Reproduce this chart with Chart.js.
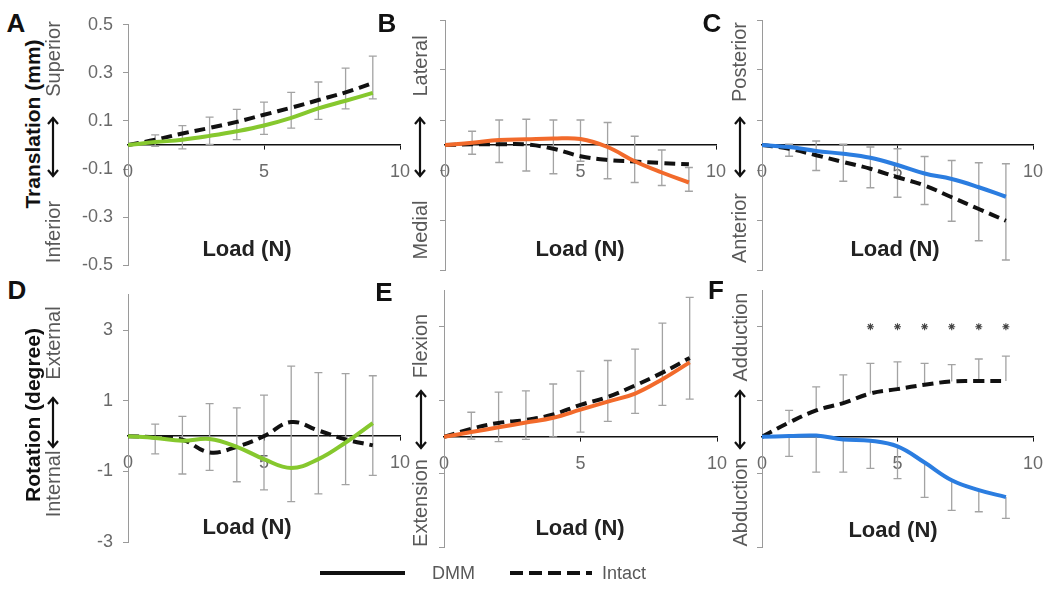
<!DOCTYPE html>
<html>
<head>
<meta charset="utf-8">
<script src="https://cdn.jsdelivr.net/npm/chart.js@4.4.1/dist/chart.umd.min.js"></script>
<style>
  body { margin:0; background:#fff; }
  #fig { position:relative; width:1050px; height:590px; overflow:hidden; font-family:"Liberation Sans", Arial, sans-serif; }
  #fig canvas { position:absolute; }
  .t { position:absolute; transform:translate(-50%,-50%); white-space:nowrap; line-height:1; }
  .r { transform:translate(-50%,-50%) rotate(-90deg); }
  .letter { font-size:26px; font-weight:bold; color:#111; }
  .side { font-size:20px; color:#595959; }
  .ytitle { font-size:21px; font-weight:bold; color:#111; }
  .load { font-size:22px; font-weight:bold; color:#222; }
  .leg { font-size:18px; color:#595959; transform:translate(0,-50%); }
  svg { position:absolute; left:0; top:0; }
</style>
</head>
<body>
<div id="fig">
  <div id="charts"></div>

  <div class="t letter" style="left:16px;top:23px">A</div>
  <div class="t letter" style="left:387px;top:23px">B</div>
  <div class="t letter" style="left:712px;top:23px">C</div>
  <div class="t letter" style="left:17px;top:290px">D</div>
  <div class="t letter" style="left:384px;top:292px">E</div>
  <div class="t letter" style="left:716px;top:290px">F</div>

  <div class="t r ytitle" style="left:32px;top:124px">Translation (mm)</div>
  <div class="t r ytitle" style="left:32px;top:415px">Rotation (degree)</div>

  <div class="t r side" style="left:53px;top:59px">Superior</div>
  <div class="t r side" style="left:53px;top:232px">Inferior</div>
  <div class="t r side" style="left:420px;top:66px">Lateral</div>
  <div class="t r side" style="left:420px;top:230px">Medial</div>
  <div class="t r side" style="left:739px;top:62px">Posterior</div>
  <div class="t r side" style="left:739px;top:228px">Anterior</div>
  <div class="t r side" style="left:53px;top:343px">External</div>
  <div class="t r side" style="left:53px;top:484px">Internal</div>
  <div class="t r side" style="left:420px;top:346px">Flexion</div>
  <div class="t r side" style="left:420px;top:503px">Extension</div>
  <div class="t r side" style="left:740px;top:337px">Adduction</div>
  <div class="t r side" style="left:740px;top:502px">Abduction</div>

  <div class="t load" style="left:247px;top:249px">Load (N)</div>
  <div class="t load" style="left:580px;top:249px">Load (N)</div>
  <div class="t load" style="left:895px;top:249px">Load (N)</div>
  <div class="t load" style="left:247px;top:527px">Load (N)</div>
  <div class="t load" style="left:580px;top:528px">Load (N)</div>
  <div class="t load" style="left:893px;top:530px">Load (N)</div>

  <svg id="deco" width="1050" height="590"></svg>
  <div class="t leg" style="left:432px;top:573px">DMM</div>
  <div class="t leg" style="left:602px;top:573px">Intact</div>
</div>

<script>
// load steps (N) and axis ticks
const loads = [0, 1, 2, 3, 4, 5, 6, 7, 8, 9]
const xTicks = [0, 5, 10]
const transTicks = [-0.5, -0.3, -0.1, 0.1, 0.3, 0.5]
const rotTicks = [-3, -1, 1, 3]

// A: superior / inferior translation (mm)
const dmmA = [0, 0.012, 0.022, 0.038, 0.057, 0.081, 0.113, 0.152, 0.184, 0.217]
const intactA = [0, 0.022, 0.048, 0.071, 0.096, 0.126, 0.155, 0.187, 0.219, 0.258]
const errHiA = [null, 0.042, 0.081, 0.116, 0.148, 0.178, 0.219, 0.262, 0.32, 0.37]
const errLoA = [null, -0.006, -0.016, 0.003, 0.022, 0.044, 0.07, 0.107, 0.15, 0.192]

// B: lateral / medial translation (mm)
const dmmB = [0, 0.009, 0.02, 0.023, 0.026, 0.024, -0.008, -0.065, -0.11, -0.15]
const intactB = [0, 0.003, 0.003, 0.002, -0.015, -0.045, -0.06, -0.066, -0.072, -0.077]
const errHiB = [null, 0.055, 0.1, 0.103, 0.1, 0.1, 0.09, 0.035, -0.02, -0.09]
const errLoB = [null, -0.037, -0.07, -0.104, -0.115, -0.065, -0.135, -0.15, -0.162, -0.185]

// C: posterior / anterior translation (mm)
const dmmC = [0, -0.008, -0.024, -0.035, -0.051, -0.08, -0.114, -0.136, -0.169, -0.207]
const intactC = [0, -0.015, -0.041, -0.068, -0.095, -0.129, -0.162, -0.209, -0.256, -0.303]
const errHiC = [null, 0.003, 0.016, 0.003, -0.008, -0.015, -0.046, -0.062, -0.071, -0.075]
const errLoC = [null, -0.045, -0.102, -0.145, -0.171, -0.209, -0.238, -0.305, -0.383, -0.46]

// D: external / internal rotation (degree)
const dmmD = [0, -0.05, -0.13, -0.08, -0.3, -0.65, -0.9, -0.65, -0.18, 0.37]
const intactD = [0, -0.035, -0.1, -0.46, -0.3, 0, 0.4, 0.16, -0.09, -0.26]
const errHiD = [null, 0.34, 0.56, 0.92, 0.8, 1.16, 1.98, 1.8, 1.77, 1.71]
const errLoD = [null, -0.5, -1.07, -0.97, -1.29, -1.52, -1.85, -1.63, -1.37, -1.11]

// E: flexion / extension (degree)
const dmmE = [0, 0.13, 0.26, 0.39, 0.52, 0.74, 0.96, 1.18, 1.57, 2.03]
const intactE = [0, 0.22, 0.38, 0.46, 0.61, 0.87, 1.09, 1.4, 1.75, 2.15]
const errHiE = [null, 0.67, 1.22, 1.25, 1.44, 1.79, 2.08, 2.39, 3.1, 3.8]
const errLoE = [null, -0.06, -0.13, -0.07, 0.0, 0.13, 0.42, 0.64, 0.86, 1.03]

// F: adduction / abduction (degree), bars: intact up, DMM down
const dmmF = [0, 0.02, 0.035, -0.07, -0.105, -0.26, -0.7, -1.18, -1.45, -1.64]
const intactF = [0, 0.39, 0.72, 0.92, 1.18, 1.3, 1.42, 1.51, 1.52, 1.52]
const errHiF = [null, 0.72, 1.36, 1.69, 2.0, 2.04, 2.0, 1.97, 2.12, 2.2]
const errLoF = [null, -0.53, -0.96, -0.96, -0.86, -1.14, -1.65, -2.0, -2.04, -2.22]
const starX = [4, 5, 6, 7, 8, 9]
const starY = [3, 3, 3, 3, 3, 3]

const family = '"Liberation Sans", Arial, sans-serif'
const GREEN = '#86c82e', ORANGE = '#f26a2b', BLUE = '#2b7de0'
const PAD_L = 70, PAD_R = 24, PAD_T = 16, PAD_B = 16

const panels = [
  { id:'A', box:[128, 20, 400, 270], yMin:-0.5, yMax:0.5, yTicks:transTicks, labels:true, dmm:dmmA, intact:intactA, hi:errHiA, lo:errLoA, color:GREEN },
  { id:'B', box:[445, 20, 716, 270], yMin:-0.5, yMax:0.5, yTicks:transTicks, labels:false, dmm:dmmB, intact:intactB, hi:errHiB, lo:errLoB, color:ORANGE },
  { id:'C', box:[762, 20, 1033, 270], yMin:-0.5, yMax:0.5, yTicks:transTicks, labels:false, dmm:dmmC, intact:intactC, hi:errHiC, lo:errLoC, color:BLUE },
  { id:'D', box:[128, 290, 400, 547], yMin:-3, yMax:4, yTicks:rotTicks, labels:true, dmm:dmmD, intact:intactD, hi:errHiD, lo:errLoD, color:GREEN },
  { id:'E', box:[444, 290, 717, 547], yMin:-3, yMax:4, yTicks:rotTicks, labels:false, dmm:dmmE, intact:intactE, hi:errHiE, lo:errLoE, color:ORANGE },
  { id:'F', box:[762, 290, 1033, 547], yMin:-3, yMax:4, yTicks:rotTicks, labels:false, dmm:dmmF, intact:intactF, hi:errHiF, lo:errLoF, color:BLUE, split:true, stars:true }
]

function errorBars(p) {
  return {
    id: 'errorBars' + p.id,
    beforeDatasetsDraw(chart) {
      const { ctx, scales: { x, y } } = chart
      ctx.save()
      ctx.strokeStyle = '#a3a3a3'
      ctx.lineWidth = 1.3
      const seg = (px, from, to, capBoth) => {
        const y1 = y.getPixelForValue(from), y2 = y.getPixelForValue(to)
        ctx.beginPath()
        ctx.moveTo(px, y1); ctx.lineTo(px, y2)
        ctx.moveTo(px - 4, y2); ctx.lineTo(px + 4, y2)
        if (capBoth) { ctx.moveTo(px - 4, y1); ctx.lineTo(px + 4, y1) }
        ctx.stroke()
      }
      loads.forEach((l, i) => {
        if (p.hi[i] == null) return
        const px = x.getPixelForValue(l)
        if (p.split) {
          seg(px, p.intact[i], p.hi[i], false)
          seg(px, p.dmm[i], p.lo[i], false)
        } else seg(px, p.lo[i], p.hi[i], true)
      })
      ctx.restore()
    }
  }
}

function makePanel(p) {
  const [l, t, r, b] = p.box
  const cv = document.createElement('canvas')
  cv.width = r - l + PAD_L + PAD_R
  cv.height = b - t + PAD_T + PAD_B
  cv.style.left = (l - PAD_L) + 'px'
  cv.style.top = (t - PAD_T) + 'px'
  document.getElementById('charts').appendChild(cv)

  const datasets = [
    { label:'DMM', data: loads.map((v, i) => ({ x:v, y:p.dmm[i] })), borderColor:p.color, borderWidth:4, pointRadius:0, tension:0.4 },
    { label:'Intact', data: loads.map((v, i) => ({ x:v, y:p.intact[i] })), borderColor:'#111', borderWidth:4, borderDash:[11, 6], pointRadius:0, tension:0.4 }
  ]
  if (p.stars) datasets.push({ label:'p<0.05', data: starX.map((v, i) => ({ x:v, y:starY[i] })), showLine:false,
    pointStyle:'star', pointRadius:3.5, borderColor:'#444', borderWidth:1.1 })

  new Chart(cv, {
    type: 'line',
    data: { datasets },
    plugins: [errorBars(p)],
    options: {
      responsive:false, animation:false,
      layout: { padding: { top:PAD_T, bottom:PAD_B, right:PAD_R, left:0 } },
      plugins: { legend:{ display:false }, tooltip:{ enabled:false } },
      scales: {
        x: { type:'linear', min:0, max:10, position:{ y:0 },
          afterBuildTicks: ax => { ax.ticks = xTicks.map(v => ({ value:v })) },
          grid: { drawOnChartArea:false, tickLength:4, color:'#111' },
          border: { color:'#111', width:1.6 },
          ticks: { padding:12, color:'#6a6a6a', font:{ family, size:18 }, maxRotation:0, autoSkip:false, callback: v => String(v) } },
        y: { type:'linear', min:p.yMin, max:p.yMax, position:'left',
          afterBuildTicks: ax => { ax.ticks = p.yTicks.map(v => ({ value:v })) },
          afterFit: ax => { ax.width = PAD_L },
          grid: { drawOnChartArea:false, tickLength:5, color:'#9a9a9a' },
          border: { color:'#9a9a9a', width:1 },
          ticks: { display:p.labels, padding:10, color:'#6a6a6a', font:{ family, size:18 }, callback: v => String(v) } }
      }
    }
  })
}

panels.forEach(makePanel)

// double arrows beside the axes and the legend keys
const arrows = [[53, 118, 176], [420, 118, 176], [740, 118, 176], [53, 398, 447], [421, 391, 448], [740, 391, 448]]
let svg = ''
arrows.forEach(([x, y1, y2]) => {
  svg += `<path d="M${x} ${y1}L${x} ${y2}M${x - 5} ${y1 + 6}L${x} ${y1}L${x + 5} ${y1 + 6}M${x - 5} ${y2 - 6}L${x} ${y2}L${x + 5} ${y2 - 6}" stroke="#111" stroke-width="2.2" fill="none"/>`
})
svg += '<line x1="320" y1="573" x2="405" y2="573" stroke="#111" stroke-width="4"/>'
svg += '<line x1="510" y1="573" x2="592" y2="573" stroke="#111" stroke-width="4" stroke-dasharray="13 6"/>'
document.getElementById('deco').innerHTML = svg
</script>
</body>
</html>
